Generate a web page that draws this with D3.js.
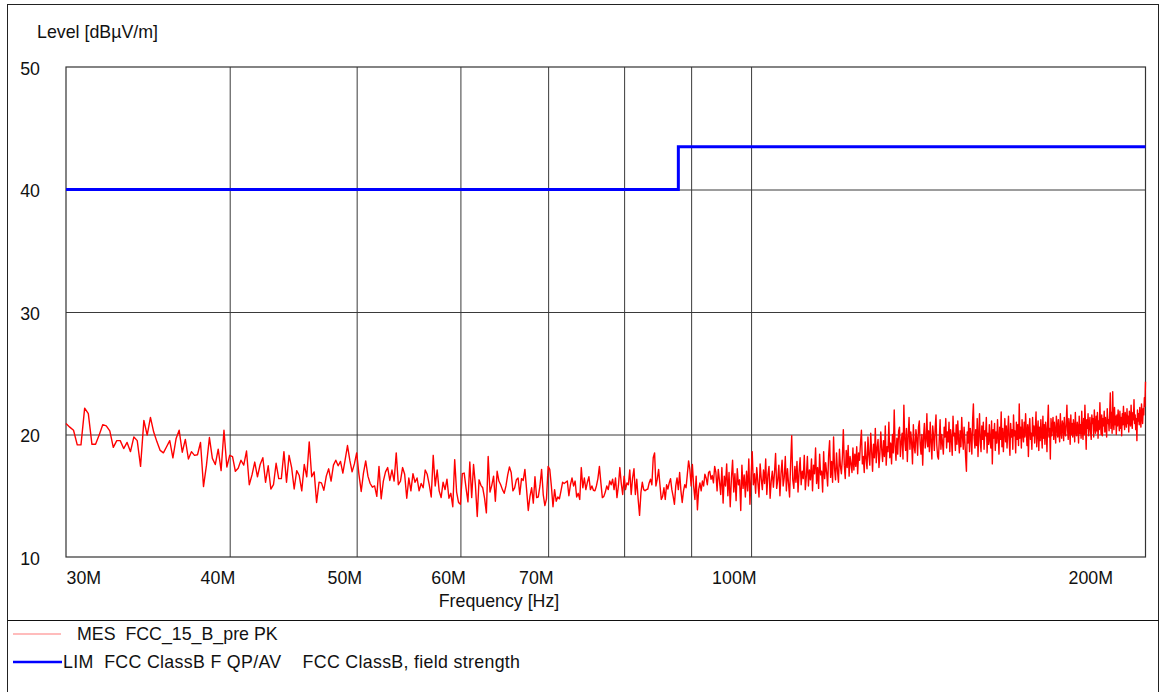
<!DOCTYPE html>
<html>
<head>
<meta charset="utf-8">
<script src="https://cdn.jsdelivr.net/npm/d3@7"></script>
<style>
  html, body { margin: 0; padding: 0; background: #fff; }
  svg { display: block; }
  text { font-family: "Liberation Sans", Arial, Helvetica, sans-serif; fill: #111; white-space: pre; }
</style>
</head>
<body>
<svg id="chart" width="1159" height="692"></svg>
<script>
// ---------- DATA ----------
const freqStartMHz = 30;
const freqStopMHz = 200;

// Measured peak level (dBµV/m), linear sweep from freqStartMHz to freqStopMHz
const levels = [
  20.9, 20.6, 20.35, 19.15, 19.15, 22.15, 21.7, 19.2, 19.2, 19.95,
  20.8, 20.7, 20.3, 18.95, 19.5, 19.5, 18.85, 19.35, 18.6, 19.8,
  19.5, 17.4, 21.15, 19.95, 21.4, 20.2, 19.4, 18.7, 18.5, 19.0,
  19.5, 18.1, 19.65, 20.35, 18.55, 19.6, 18.0, 18.6, 18.3, 18.35,
  19.35, 15.75, 17.5, 19.75, 18.05, 17.55, 18.8, 17.05, 20.35, 17.35,
  18.3, 18.2, 17.0, 17.25, 17.9, 17.5, 18.65, 15.9, 16.7, 17.75,
  16.55, 17.55, 18.1, 16.1, 17.45, 15.55, 15.9, 17.65, 16.4,
  16.4, 18.6, 16.1, 18.3, 17.3, 15.55, 17.05, 16.65, 15.4, 17.55, 16.55, 19.4,
  16.55, 16.95, 14.45, 16.1, 16.05, 15.45, 16.6, 17.2, 16.2, 17.5,
  17.9, 17.45, 17.8, 16.85, 17.95, 19.1, 17.9, 16.95, 17.6, 18.5,
  16.75, 15.35, 16.85, 17.85, 16.6, 16.0, 15.7, 15.8, 14.95, 17.4,
  14.75, 16.2, 16.95, 17.3, 16.25, 17.1, 16.2, 18.5, 15.9, 16.2,
  17.3, 16.75, 14.8, 16.45, 15.4, 16.8, 16.1, 16.45, 15.4, 16.0,
  15.65, 17.1, 16.75, 15.9, 14.9, 18.3, 15.8, 17.1, 15.4, 14.85,
  16.1, 15.5, 16.35, 14.8, 15.2, 14.1, 17.95, 15.3, 14.45, 14.3,
  16.8, 16.85, 15.6, 14.5, 17.75, 14.85, 17.55, 15.9, 13.3, 16.3,
  15.85, 15.65, 14.8, 13.6, 18.2, 15.3, 15.85, 16.6, 14.55, 17.0, 16.2,
  15.9, 15.5, 15.2, 15.8, 16.7, 17.35, 16.9, 15.4, 15.65, 16.3,
  16.45, 15.1, 16.4, 16.25, 17.15, 15.5, 13.8, 14.95, 15.65, 14.4,
  16.55, 14.85, 14.9, 15.8, 17.15, 15.1, 14.2, 14.75, 17.4,
  17.15, 15.8, 14.1, 15.5, 14.55, 14.9, 14.75, 15.4, 16.1, 16.0,
  16.1, 16.2, 15.0, 15.9, 16.45, 15.8, 16.2, 14.9, 15.2, 14.7,
  17.3, 15.65, 16.45, 15.5, 16.1, 16.55, 15.5, 15.8, 15.45, 15.4,
  15.8, 16.4, 17.4, 16.05, 14.85, 14.95, 15.3, 15.8, 15.5, 16.2,
  15.9, 16.35, 15.5, 16.45, 14.85, 15.8, 17.3, 16.0, 15.1, 16.6,
  15.5, 16.05, 15.9, 17.1, 15.1, 16.45, 17.2, 15.1, 16.35, 14.7,
  13.4, 15.25, 16.1, 15.5, 15.4, 15.5, 15.55, 16.05, 16.35, 15.9,
  18.1, 18.5, 15.8, 16.35, 17.15, 15.9, 14.7, 14.95, 15.65, 14.7,
  15.9, 15.55, 16.05, 16.4, 15.5, 14.95, 14.3, 15.8, 16.45, 15.5,
  16.9, 15.4, 14.45, 15.4, 15.9, 15.65, 16.75, 17.85, 17.15, 15.8,
  17.55, 15.8, 14.7, 16.6, 13.85, 15.5, 16.05, 15.4, 16.2, 15.8,
  16.75, 16.45, 15.9, 16.9, 17.0, 16.35, 16.65, 16.05, 17.4, 16.9, 15.4, 17.15,
  16.2, 15.1, 17.3, 14.4, 16.6, 15.8, 17.6, 15.0, 16.9, 14.1,
  16.4, 17.9, 15.3, 16.8, 14.6, 17.2, 15.9, 16.3, 13.8, 17.5,
  15.6, 16.7, 14.9, 17.0, 15.4, 18.0, 14.3, 16.6,
  18.6, 15.9, 16.8, 15.2, 17.3, 16.1, 14.9, 17.6, 16.4, 15.5,
  17.1, 16.0, 18.0, 15.1, 16.7, 17.4, 14.8, 16.2, 17.0, 15.7,
  16.9, 18.45, 15.6, 16.3, 17.5, 15.0, 16.8, 17.9, 15.8, 16.5,
  18.2, 15.4, 17.2, 16.0, 14.9, 17.7, 19.9, 16.3, 15.6, 17.4,
  16.1, 17.8, 15.3, 16.9, 18.1, 15.9, 17.0, 16.4, 18.3, 15.5,
  16.6, 18.2, 15.8, 17.1, 16.3, 18.0, 15.4, 17.5, 16.8, 18.9,
  16.0, 17.3, 15.6, 18.4, 16.7, 17.0, 15.3, 18.6, 16.4, 17.7,
  16.9, 15.8, 18.3, 19.5, 16.5, 17.8, 16.1, 19.8, 17.2, 16.3,
  18.5, 17.0, 16.1, 18.8, 17.4, 16.8, 18.1, 20.4, 17.5, 16.4,
  18.7, 17.3, 19.1, 16.6, 18.2, 17.6, 16.9, 18.9, 17.1, 18.4,
  17.4, 19.0, 16.8, 18.5, 17.9, 19.3, 20.35, 17.6, 18.2, 16.9,
  19.4, 18.0, 17.2, 19.8, 18.3, 17.5, 20.1, 18.6, 17.0, 19.2,
  18.1, 20.5, 17.7, 18.9, 19.6, 17.3, 18.4, 20.2, 18.8, 17.8,
  19.5, 18.2, 20.7, 17.5, 19.0, 18.6, 21.0, 18.1, 19.3, 17.6,
  20.0, 18.5, 22.0, 19.1, 17.9, 19.7, 18.4, 20.3, 20.6, 18.2,
  19.4, 20.1, 18.0, 22.4, 19.6, 18.7, 20.5, 17.8, 19.9, 21.4,
  18.8, 20.2, 19.3, 17.6, 20.8, 19.0, 18.5, 20.4, 19.7, 18.3,
  20.6, 21.1, 19.2, 18.4, 20.0, 17.5, 19.8, 20.9, 18.9, 19.5,
  21.7, 19.0, 20.3, 18.6, 21.0, 19.4, 18.0, 20.7, 19.9, 18.7,
  20.5, 21.6, 19.1, 18.2, 18.0, 19.6, 21.2, 18.8, 20.0, 19.3,
  18.4, 20.6, 19.8, 21.3, 18.9, 20.2, 19.4, 21.0, 18.6, 20.4,
  19.7, 18.3, 21.5, 19.9, 20.1, 18.7, 20.8, 19.2, 21.1, 19.6,
  18.5, 20.3, 19.0, 21.4, 19.8, 18.8, 20.6, 19.5, 18.1, 17.0,
  20.2, 19.3, 21.0, 18.6, 20.5, 19.9, 18.4, 21.2, 22.5, 19.7,
  18.9, 20.4, 19.1, 21.3, 18.2, 20.0, 21.7, 19.4, 18.6, 20.7,
  19.6, 21.0, 18.8, 20.3, 19.9, 21.4, 18.5, 20.1, 19.2, 20.8,
  19.5, 18.9, 21.1, 17.6, 20.4, 19.7, 20.9, 18.7, 20.2, 19.3,
  21.2, 19.8, 18.4, 20.6, 19.6, 21.85, 19.0, 20.5, 18.6, 20.0,
  21.3, 19.4, 20.7, 18.9, 20.2, 21.5, 19.5, 18.3, 20.9, 19.8,
  20.4, 18.8, 21.6, 19.9, 20.3, 18.5, 21.0, 19.6, 20.8, 19.1,
  22.5, 19.7, 20.6, 18.9, 21.2, 20.0, 19.4, 21.0, 19.8, 21.7,
  20.3, 19.1, 20.8, 18.2, 20.5, 21.3, 19.6, 20.1, 18.8, 21.4,
  19.9, 20.7, 19.3, 20.4, 21.85, 19.0, 20.2, 21.1, 18.7, 20.6,
  19.5, 21.2, 20.0, 18.9, 21.5, 19.7, 20.8, 19.2, 21.0, 20.3,
  18.6, 20.9, 22.4, 19.8, 20.5, 18.0, 21.3, 19.9, 20.7, 21.4,
  19.6, 21.0, 20.2, 19.3, 21.5, 20.6, 19.8, 21.2, 20.0, 19.4,
  21.7, 20.3, 19.7, 21.1, 20.8, 19.5, 21.4, 20.1, 19.9, 21.0,
  22.4, 20.4, 19.6, 21.3, 20.7, 19.2, 21.6, 20.0, 20.9, 19.8,
  21.2, 20.5, 19.4, 21.8, 20.2, 19.9, 21.0, 20.6, 19.3, 21.5,
  20.1, 20.8, 19.7, 21.9, 20.4, 19.6, 21.3, 20.0, 22.4, 20.7,
  18.8, 21.2, 20.5, 21.7, 19.9, 20.8, 21.4, 20.2, 19.6, 21.6,
  20.9, 21.3, 19.8, 22.0, 20.6, 20.1, 21.5, 20.3, 21.8, 19.7,
  21.1, 20.4, 22.6, 20.8, 20.0, 21.6, 19.9, 21.3, 20.7, 21.9,
  20.2, 21.4, 20.6, 19.8, 22.1, 20.9, 21.2, 20.3, 21.7, 23.4,
  20.5, 21.8, 20.1, 23.5, 21.0, 20.4, 22.2, 20.8, 21.5, 20.0,
  21.6, 20.7, 22.0, 21.1, 20.3, 21.9, 20.5, 21.4, 19.9, 21.7,
  20.8, 22.3, 21.0, 20.4, 21.8, 21.2, 20.6, 22.1, 20.9, 21.5,
  20.2, 21.9, 21.3, 20.7, 22.4, 21.0, 20.5, 21.8, 21.2, 22.85,
  20.9, 21.6, 20.4, 21.3, 19.5, 22.0, 21.1, 21.7, 20.8, 22.2,
  21.4, 20.6, 22.5, 21.8, 20.9, 22.1, 21.6, 23.0, 22.3, 24.3
];

// FCC Class B field strength limit (MHz, dBµV/m)
const limitFreqs = [30, 88, 88, 200];
const limitLevels = [40, 40, 43.5, 43.5];

const xTickValues = [30, 40, 50, 60, 70, 100, 200];
const xTickLabels = ["30M", "40M", "50M", "60M", "70M", "100M", "200M"];
const xGridValues = [40, 50, 60, 70, 80, 90, 100];
const yTickValues = [10, 20, 30, 40, 50];
const yGridValues = [20, 30, 40];

const yAxisTitle = "Level [dBµV/m]";
const xAxisTitle = "Frequency [Hz]";
const legendMES = "MES  FCC_15_B_pre PK";
const legendLIM = "LIM  FCC ClassB F QP/AV    FCC ClassB, field strength";

// ---------- LAYOUT ----------
const W = 1159, H = 692;
const L = 66, R = 1145.5, T = 67, B = 557;
const fs = 17.8;

const svg = d3.select("#chart");

const x = d3.scaleLog().domain([freqStartMHz, freqStopMHz]).range([L, R]);
const y = d3.scaleLinear().domain([10, 50]).range([B, T]);

// outer frame
svg.append("rect").attr("x", 7.5).attr("y", 4.5).attr("width", 1151).attr("height", 700)
  .attr("fill", "none").attr("stroke", "#222").attr("stroke-width", 1);
svg.append("line").attr("x1", 7.5).attr("x2", W).attr("y1", 620.5).attr("y2", 620.5)
  .attr("stroke", "#111").attr("stroke-width", 1);

// grid
const gridColor = "#3a3a3a";
svg.append("g").attr("transform", `translate(${L},0)`)
  .call(d3.axisLeft(y).tickValues(yGridValues).tickSize(-(R - L)).tickFormat(""))
  .call(g => g.select(".domain").remove())
  .call(g => g.selectAll("line").attr("stroke", gridColor).attr("stroke-width", 1));
svg.append("g").attr("transform", `translate(0,${B})`)
  .call(d3.axisBottom(x).tickValues(xGridValues).tickSize(-(B - T)).tickFormat(""))
  .call(g => g.select(".domain").remove())
  .call(g => g.selectAll("line").attr("stroke", gridColor).attr("stroke-width", 1));

// plot frame
svg.append("rect").attr("x", L).attr("y", T).attr("width", R - L).attr("height", B - T)
  .attr("fill", "none").attr("stroke", "#333").attr("stroke-width", 1.2);

// y tick labels
svg.append("g").attr("transform", `translate(${L},1.5)`)
  .call(d3.axisLeft(y).tickValues(yTickValues).tickSize(0).tickPadding(26).tickFormat(d3.format("d")))
  .call(g => g.select(".domain").remove())
  .call(g => g.selectAll("text").attr("font-size", fs).attr("font-family", null).attr("fill", "#111"));

// x tick labels
const xAx = svg.append("g").attr("transform", `translate(0,${B})`)
  .call(d3.axisBottom(x).tickValues(xTickValues).tickSize(0).tickPadding(0)
    .tickFormat((d, i) => xTickLabels[i]))
  .call(g => g.select(".domain").remove());
xAx.selectAll("text")
  .attr("font-size", fs).attr("font-family", null).attr("fill", "#111")
  .attr("dy", null).attr("y", 27)
  .attr("text-anchor", (d, i) => i === 0 ? "start" : "end")
  .attr("dx", (d, i) => i === 0 ? 0 : (i === xTickValues.length - 1 ? -33 : 5));

// axis titles
svg.append("text").attr("x", 37).attr("y", 38).attr("font-size", fs).text(yAxisTitle);
svg.append("text").attr("x", 499).attr("y", 607).attr("font-size", fs)
  .attr("text-anchor", "middle").text(xAxisTitle);

// data
const meas = levels.map((v, i) => ({
  f: freqStartMHz + i * (freqStopMHz - freqStartMHz) / (levels.length - 1), v
}));
svg.append("path").datum(meas)
  .attr("fill", "none").attr("stroke", "#ff0000").attr("stroke-width", 1.4)
  .attr("stroke-linejoin", "round")
  .attr("d", d3.line().x(d => x(d.f)).y(d => y(d.v)));

const lim = limitFreqs.map((f, i) => ({ f, v: limitLevels[i] }));
svg.append("path").datum(lim)
  .attr("fill", "none").attr("stroke", "#0000ff").attr("stroke-width", 3)
  .attr("d", d3.line().x(d => x(d.f)).y(d => y(d.v)));

// legend
svg.append("line").attr("x1", 13).attr("x2", 61).attr("y1", 634).attr("y2", 634)
  .attr("stroke", "#ff7a7a").attr("stroke-width", 1.2);
svg.append("text").attr("x", 77).attr("y", 640).attr("font-size", fs).text(legendMES);
svg.append("line").attr("x1", 13).attr("x2", 62).attr("y1", 662).attr("y2", 662)
  .attr("stroke", "#0000ff").attr("stroke-width", 2.5);
svg.append("text").attr("x", 63).attr("y", 668).attr("font-size", fs)
  .attr("textLength", 457).attr("lengthAdjust", "spacing").text(legendLIM);
</script>
</body>
</html>
